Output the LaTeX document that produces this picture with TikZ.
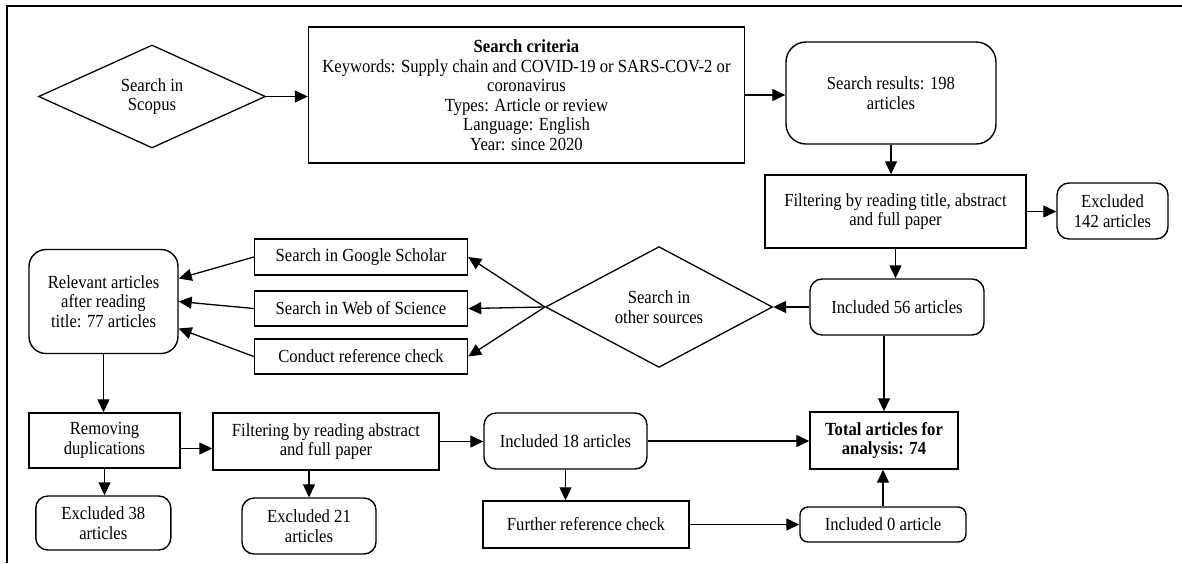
\documentclass[tikz,border=0pt]{standalone}
\usepackage{fontspec}
\setmainfont{Liberation Serif}[FakeStretch=0.9]
\usetikzlibrary{shapes.geometric,arrows.meta,calc}
\begin{document}
\begin{tikzpicture}[x=1pt,y=-1pt,
  every node/.style={font=\fontsize{18.5}{19.5}\selectfont, inner sep=0pt, align=center},
  rect/.style={draw, line width=1.4pt},
  rbox/.style={draw, line width=1.4pt, rounded corners=12pt},
  dia/.style={draw, line width=1.3pt, shape=diamond},
  arr/.style={line width=1.3pt, -{Triangle[length=13pt,width=12pt]}},
]
\useasboundingbox (0,0) rectangle (1182,563);
\draw[line width=2.4pt] (7,563) -- (7,6) -- (1182,6);

% row 1
\node[dia, minimum width=227pt, minimum height=103pt] (d1) at (152,96.5) {Search in\\Scopus};
\node[rect, minimum width=436pt, minimum height=136pt] (crit) at (526.5,95)
  {\textbf{Search criteria}\\Keywords: Supply chain and COVID-19 or SARS-COV-2 or\\coronavirus\\Types: Article or review\\Language: English\\Year: since 2020};
\node[rbox, rounded corners=20pt, minimum width=210pt, minimum height=102pt] (res) at (891,93) {Search results: 198\\articles};
\node[rect, minimum width=261pt, minimum height=73pt] (filt) at (895.5,211.5) {Filtering by reading title, abstract\\and full paper};
\node[rbox, minimum width=111pt, minimum height=56pt] (ex142) at (1112.5,211) {Excluded\\142 articles};

% row 2
\node[rbox, minimum width=174pt, minimum height=56pt] (inc56) at (897,307) {Included 56 articles};
\node[dia, minimum width=227pt, minimum height=110pt] (d2) at (659,307) {Search in\\other sources};
\node[rect, minimum width=213pt, minimum height=36pt] (gs) at (361,257) {Search in Google Scholar};
\node[rect, minimum width=213pt, minimum height=35pt] (wos) at (361,308.5) {Search in Web of Science};
\node[rect, minimum width=213pt, minimum height=35pt] (crc) at (361,356.5) {Conduct reference check};
\node[rbox, rounded corners=17pt, minimum width=149pt, minimum height=104pt] (rel) at (103.5,301.5) {Relevant articles\\after reading\\title: 77 articles};

% row 3
\node[rect, minimum width=151pt, minimum height=55pt] (rem) at (104.5,440.5) {Removing\\duplications};
\node[rect, minimum width=226pt, minimum height=57pt] (fab) at (326,441.5) {Filtering by reading abstract\\and full paper};
\node[rbox, minimum width=163pt, minimum height=56pt] (inc18) at (565.5,441) {Included 18 articles};
\node[rect, minimum width=148pt, minimum height=57pt] (total) at (884,440.5) {\textbf{Total articles for}\\\textbf{analysis: 74}};

% row 4
\node[rbox, minimum width=135pt, minimum height=54pt] (ex38) at (103.3,523) {Excluded 38\\articles};
\node[rbox, minimum width=134pt, minimum height=56pt] (ex21) at (309,526) {Excluded 21\\articles};
\node[rect, minimum width=206pt, minimum height=47pt] (fur) at (586,524.5) {Further reference check};
\node[rbox, rounded corners=8pt, minimum width=166pt, minimum height=35pt] (inc0) at (883,524.5) {Included 0 article};

% connector helper points
\coordinate (relA) at ($(rel.east)+(0,-23)$);
\coordinate (relC) at ($(rel.east)+(0,27)$);
\coordinate (remA) at ($(rem.east)+(0,8)$);

% connectors
\draw[arr] (d1.east) -- (d1.east -| crit.west);
\draw[arr] (crit.east) -- (crit.east -| res.west);
\draw[arr] (res.south) -- (res.south |- filt.north);
\draw[arr] (filt.east) -- (filt.east -| ex142.west);
\draw[arr] (filt.south) -- (filt.south |- inc56.north);
\draw[arr] (inc56.west) -- (d2.east);
\draw[arr] (d2.west) -- (gs.east);
\draw[arr] (d2.west) -- (wos.east);
\draw[arr] (d2.west) -- (crc.east);
\draw[arr] (gs.west) -- (relA);
\draw[arr] (wos.west) -- (rel.east);
\draw[arr] (crc.west) -- (relC);
\draw[arr] (rel.south) -- (rel.south |- rem.north);
\draw[arr] (remA) -- (remA -| fab.west);
\draw[arr] (fab.east) -- (fab.east -| inc18.west);
\draw[arr] (inc18.east) -- (inc18.east -| total.west);
\draw[arr] (rem.south) -- (rem.south |- ex38.north);
\draw[arr] (fab.south -| ex21.north) -- (ex21.north);
\draw[arr] (inc18.south) -- (inc18.south |- fur.north);
\draw[arr] (fur.east) -- (fur.east -| inc0.west);
\draw[arr] (inc0.north) -- (inc0.north |- total.south);
\draw[arr] (inc56.south -| total.north) -- (total.north);
\end{tikzpicture}
\end{document}
